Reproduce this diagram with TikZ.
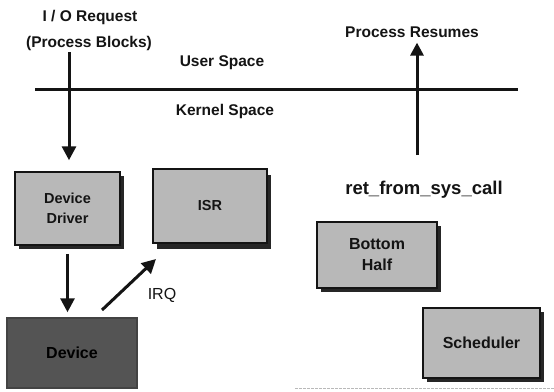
\documentclass[tikz,border=0pt]{standalone}
\usepackage{fontspec}
\setmainfont{Liberation Sans}
\usetikzlibrary{arrows.meta}

\definecolor{boxgray}{HTML}{B8B8B8}
\definecolor{devgray}{HTML}{545454}
\definecolor{inkgray}{HTML}{141414}

\tikzset{
  lbl/.style={font=\fontsize{15.5}{17}\selectfont\bfseries, text=inkgray, inner sep=0pt},
  stagebox/.style={draw=inkgray, line width=1.5pt, fill=boxgray,
    font=\fontsize{14.5}{20}\selectfont\bfseries, text=inkgray, align=center,
    inner sep=0pt, minimum width=#1},
  bigtext/.style={font=\fontsize{16}{21}\selectfont\bfseries},
  shade3/.style={fill=black!85},
  flow/.style={line width=3pt, draw=inkgray,
    -{Triangle[length=14pt,width=14pt]}},
  rule/.style={line width=3pt, draw=inkgray}
}

\begin{document}
\begin{tikzpicture}[x=1pt, y=-1pt]
  \useasboundingbox (0,0) rectangle (554,391);
  \fill[white] (0,0) rectangle (554,391);

  % labels
  \node[lbl] (io1) at (90,17) {I / O Request};
  \node[lbl] (io2) at (89,43) {(Process Blocks)};
  \node[lbl] (user) at (222,63) {User Space};
  \node[lbl] (kern) at (225,111) {Kernel Space};
  \node[lbl] (res) at (412,32) {Process Resumes};
  \node[lbl, font=\fontsize{18.5}{20}\selectfont\bfseries] (ret) at (424,190) {ret\_from\_sys\_call};
  \node[lbl, font=\fontsize{16}{17}\selectfont] (irq) at (162,295) {IRQ};

  % user / kernel boundary
  \coordinate (bl) at (35,89);
  \coordinate (br) at (518,89);
  \draw[rule] (bl) -- (br);

  % drop shadows
  \fill[shade3] (19,176) rectangle (124,249);
  \fill[shade3] (157,175) rectangle (271,249);
  \fill[shade3] (321,226) rectangle (441,292);
  \fill[shade3] (427,312) rectangle (544,382);

  % boxes
  \node[stagebox=105pt, minimum height=73pt] (dd) at (67.5,208.5) {Device\\Driver};
  \node[stagebox=114pt, minimum height=74pt] (isr) at (210,206) {ISR};
  \node[stagebox=120pt, minimum height=66pt, bigtext] (bh) at (377,255) {Bottom\\Half};
  \node[stagebox=117pt, minimum height=70pt, bigtext] (sch) at (481.5,343) {Scheduler};
  \node[stagebox=130pt, minimum height=70pt, fill=devgray, draw=devgray!80!black,
        text=black, bigtext] (dev) at (72,353) {Device};

  % connectors
  \coordinate (ioTop) at (69,52);
  \draw[flow, shorten >=11pt] (ioTop) -- (ioTop |- dd.north);
  \draw[flow, shorten <=8pt, shorten >=5pt] (dd.south) -- (dd.south |- dev.north);
  \coordinate (irqA) at (102,310);
  \coordinate (irqB) at (156,259);
  \draw[flow] (irqA) -- (irqB);
  \coordinate (retTop) at (417,155);
  \draw[flow, -{Triangle[length=13pt,width=13pt]}, shorten >=5pt] (retTop) -- (retTop |- res.south);

  % faint rule at the foot
  \draw[gray!55, line width=0.8pt, dash pattern=on 3pt off 1pt] (295,388) -- (554,388);
\end{tikzpicture}
\end{document}
